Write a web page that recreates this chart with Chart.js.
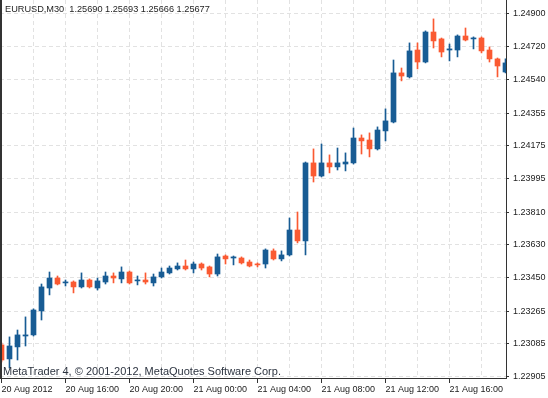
<!DOCTYPE html>
<html><head><meta charset="utf-8">
<script src="https://cdn.jsdelivr.net/npm/chart.js@4/dist/chart.umd.min.js"></script>
<style>html,body{margin:0;padding:0;background:#fff;overflow:hidden}#wrap{width:548px;height:398px;position:relative}canvas{display:block}</style>
</head><body><div id="wrap"><canvas id="c" width="548" height="398"></canvas></div>
<script>
const symbolTitle = 'EURUSD,M30  1.25690 1.25693 1.25666 1.25677';
const copyright = 'MetaTrader 4, \u00A9 2001-2012, MetaQuotes Software Corp.';
// one label every 8 candles (4 hours of M30 bars), starting at candle 0
const timeLabels = ['20 Aug 2012','20 Aug 16:00','20 Aug 20:00','21 Aug 00:00','21 Aug 04:00','21 Aug 08:00','21 Aug 12:00','21 Aug 16:00'];
const yTickLabels = ['1.24900','1.24720','1.24540','1.24355','1.24175','1.23995','1.23810','1.23630','1.23450','1.23265','1.23085','1.22905'];

const opens = [1.23080,1.23003,1.23069,1.23129,1.23135,1.23267,1.23393,1.23448,1.23421,1.23426,
1.23399,1.23437,1.23393,1.23426,1.23459,1.23443,1.23481,1.23432,1.23437,1.23421,
1.23454,1.23476,1.23498,1.23514,1.23498,1.23525,1.23509,1.23470,1.23569,1.23558,
1.23558,1.23536,1.23525,1.23525,1.23597,1.23553,1.23575,1.23712,1.23652,1.24081,
1.24009,1.24081,1.24059,1.24075,1.24081,1.24218,1.24207,1.24158,1.24257,1.24306,
1.24576,1.24554,1.24702,1.24636,1.24801,1.24763,1.24702,1.24702,1.24779,1.24763,
1.24768,1.24702,1.24653,1.24581];
const highs = [1.23091,1.23124,1.23162,1.23234,1.23278,1.23415,1.23481,1.23459,1.23437,1.23432,
1.23476,1.23443,1.23448,1.23481,1.23476,1.23509,1.23487,1.23459,1.23476,1.23470,
1.23503,1.23514,1.23531,1.23547,1.23536,1.23531,1.23514,1.23580,1.23575,1.23569,
1.23564,1.23547,1.23531,1.23608,1.23608,1.23597,1.23778,1.23811,1.24086,1.24158,
1.24185,1.24125,1.24163,1.24136,1.24273,1.24235,1.24246,1.24279,1.24378,1.24647,
1.24603,1.24741,1.24741,1.24807,1.24873,1.24768,1.24735,1.24785,1.24823,1.24774,
1.24774,1.24719,1.24658,1.24653];
const lows = [1.22986,1.22953,1.22997,1.23074,1.23129,1.23217,1.23355,1.23410,1.23404,1.23366,
1.23393,1.23393,1.23382,1.23415,1.23421,1.23421,1.23415,1.23410,1.23415,1.23404,
1.23448,1.23470,1.23492,1.23492,1.23476,1.23492,1.23454,1.23459,1.23525,1.23520,
1.23525,1.23509,1.23509,1.23503,1.23547,1.23542,1.23569,1.23641,1.23575,1.23976,
1.24004,1.24026,1.24042,1.24037,1.24075,1.24130,1.24114,1.24152,1.24202,1.24301,
1.24532,1.24548,1.24598,1.24631,1.24713,1.24664,1.24642,1.24664,1.24752,1.24708,
1.24686,1.24636,1.24554,1.24576];
const closes = [1.22997,1.23074,1.23135,1.23135,1.23272,1.23399,1.23448,1.23415,1.23426,1.23399,
1.23437,1.23399,1.23432,1.23459,1.23448,1.23481,1.23421,1.23437,1.23426,1.23454,
1.23481,1.23503,1.23514,1.23498,1.23525,1.23503,1.23470,1.23564,1.23553,1.23564,
1.23531,1.23514,1.23520,1.23602,1.23553,1.23575,1.23712,1.23652,1.24081,1.24009,
1.24081,1.24059,1.24081,1.24086,1.24218,1.24202,1.24158,1.24262,1.24312,1.24576,
1.24559,1.24697,1.24636,1.24801,1.24752,1.24691,1.24708,1.24779,1.24757,1.24768,
1.24697,1.24653,1.24614,1.24631];

const BLUE = '#185c94';
const ORANGE = '#fa5a32';
const GRID = '#e2e2e2';
const AXIS = '#333333';
const FONT = '"Liberation Sans", Arial, sans-serif';
const colorOf = (ctx) => closes[ctx.dataIndex] >= opens[ctx.dataIndex] ? BLUE : ORANGE;

const wickData = highs.map((h, i) => ({x: i, y: [lows[i], h]}));
const bodyData = opens.map((o, i) => ({x: i, y: [o, closes[i]]}));

const framePlugin = {
  id: 'frame',
  afterDraw(chart) {
    const {ctx, chartArea: a} = chart;
    ctx.save();
    ctx.fillStyle = AXIS;
    ctx.fillRect(0, 0, 2, a.bottom + 1);
    ctx.textBaseline = 'alphabetic';
    ctx.textAlign = 'left';
    ctx.font = '9.2px ' + FONT;
    ctx.fillStyle = '#1e1e1e';
    ctx.fillText(symbolTitle, 5, 12);
    ctx.font = '11px ' + FONT;
    ctx.fillStyle = '#2d3440';
    ctx.fillText(copyright, 3, 375);
    ctx.restore();
  }
};

Chart.defaults.font.family = FONT;
new Chart(document.getElementById('c'), {
  type: 'bar',
  data: {
    datasets: [
      {data: wickData, backgroundColor: colorOf, grouped: false, categoryPercentage: 1, barPercentage: 1, maxBarThickness: 1, borderWidth: 0, order: 2},
      {data: bodyData, backgroundColor: colorOf, grouped: false, categoryPercentage: 1, barPercentage: 1, maxBarThickness: 5, minBarLength: 1, borderWidth: 0, order: 1}
    ]
  },
  options: {
    responsive: false,
    animation: false,
    devicePixelRatio: 1,
    layout: {padding: 0},
    plugins: {legend: {display: false}, tooltip: {enabled: false}, title: {display: false}},
    scales: {
      x: {
        type: 'linear',
        offset: false,
        min: -0.1875,
        max: 63.0625,
        afterBuildTicks: (s) => { const t = []; for (let v = 0; v <= 60; v += 4) t.push({value: v}); s.ticks = t; },
        afterFit: (s) => { s.height = 20; s.paddingLeft = 0; s.paddingRight = 0; },
        ticks: {
          autoSkip: false, maxRotation: 0, minRotation: 0, align: 'start', padding: 1,
          color: '#222', font: {size: 9},
          callback: (v) => (v % 8 === 0 ? timeLabels[v / 8] : '')
        },
        grid: {
          offset: false,
          color: (c) => (c.tick && c.tick.value === 0 ? 'rgba(0,0,0,0)' : GRID),
          tickColor: (c) => (c.tick && c.tick.value % 8 === 0 ? AXIS : 'rgba(0,0,0,0)'),
          tickLength: 5, tickBorderDash: []
        },
        border: {display: true, color: AXIS, width: 1, dash: [4, 3]}
      },
      y: {
        type: 'linear',
        position: 'right',
        min: 1.22898,
        max: 1.24977,
        afterBuildTicks: (s) => { s.ticks = yTickLabels.map((l) => ({value: parseFloat(l)})); },
        afterFit: (s) => { s.width = 42; s.paddingTop = 0; s.paddingBottom = 0; },
        ticks: {
          padding: 4, color: '#222', font: {size: 9},
          callback: (v, i) => yTickLabels[i]
        },
        grid: {color: GRID, tickColor: AXIS, tickLength: 3, tickBorderDash: []},
        border: {display: true, color: AXIS, width: 1, dash: [4, 3]}
      }
    }
  },
  plugins: [framePlugin]
});
</script>
</body></html>
